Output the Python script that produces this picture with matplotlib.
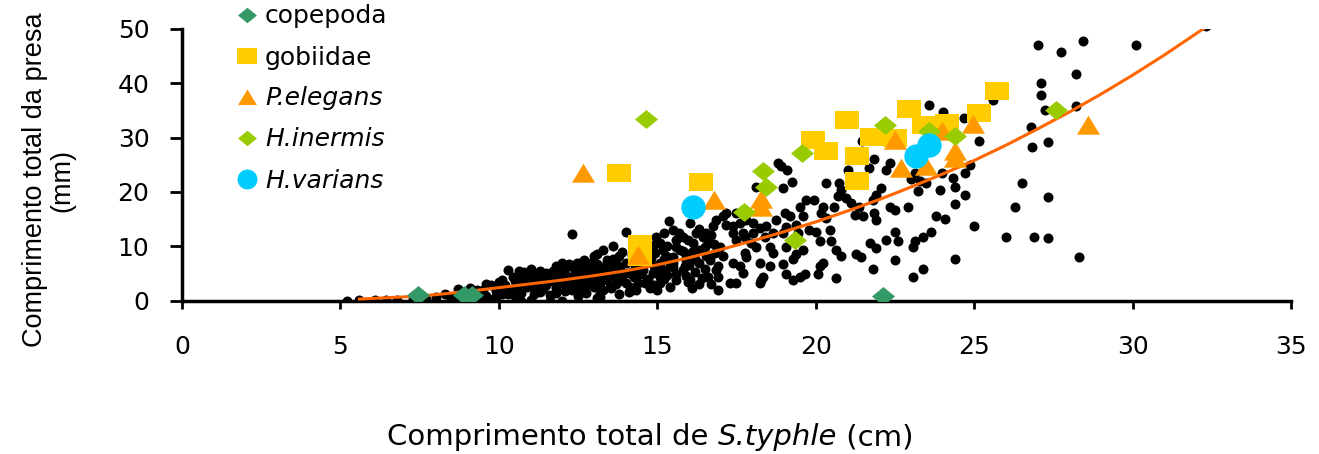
import matplotlib
matplotlib.use("Agg")
import matplotlib.pyplot as plt
from matplotlib.path import Path

# ---------------- data ----------------
# black dots: total length of S. typhle (cm) vs prey total length (mm)
dot_points = [
    (5.2, 0.0), (5.6, 0.1), (6.1, 0.1), (6.45, 0.2), (6.8, 0.2), (7.3, 0.4), (7.7, 0.3),
    (8.0, 0.7), (8.3, 1.3), (8.5, 0.5), (8.7, 2.2), (8.8, 1.3), (9.0, 0.3), (9.2, 1.1),
    (9.3, 2.0), (9.5, 2.0), (9.6, 0.9), (9.75, 2.9), (9.8, 0.4), (10.0, 2.6), (10.1, 1.3),
    (10.1, 3.8), (10.3, 5.7), (10.3, 2.2), (10.45, 4.4), (10.45, 1.9), (10.65, 5.4),
    (10.7, 0.0), (10.75, 3.5), (10.9, 2.6), (11.0, 4.4), (11.0, 0.1), (11.1, 2.6),
    (11.25, 4.2), (11.3, 1.6), (11.5, 5.1), (11.5, 2.9), (11.6, 0.0), (11.7, 4.4),
    (11.8, 6.3), (11.9, 3.2), (12.0, 5.7), (12.0, 0.0), (12.0, 6.9), (12.2, 4.4),
    (12.2, 2.6), (12.25, 6.3), (12.3, 12.3), (12.35, 3.5), (12.35, 6.3), (12.5, 2.6),
    (12.55, 5.1), (12.55, 6.9), (12.7, 7.5), (12.75, 1.5), (12.85, 4.2), (12.9, 6.3),
    (12.95, 3.2), (13.0, 8.2), (13.05, 5.1), (13.1, 0.5), (13.2, 4.4), (13.2, 0.7),
    (13.3, 9.4), (13.3, 2.0), (13.35, 6.3), (13.5, 6.3), (13.5, 2.6), (13.55, 2.3),
    (13.6, 10.0), (13.65, 4.4), (13.7, 6.9), (13.8, 8.2), (13.8, 1.3), (13.8, 6.3),
    (14.0, 3.2), (14.0, 12.6), (14.1, 5.1), (14.15, 2.6), (14.2, 2.0), (14.25, 4.4),
    (10.9, 3.3), (11.2, 3.4), (11.4, 4.0), (11.6, 3.6), (11.9, 4.8), (12.1, 3.0),
    (12.4, 4.7), (12.6, 3.8), (12.8, 5.6), (13.0, 4.0), (13.4, 4.8), (13.6, 5.4),
    (13.9, 4.6), (14.3, 6.0), (14.5, 5.0), (14.7, 4.0), (14.9, 6.4), (15.1, 5.9),
    (15.3, 4.8), (15.5, 6.2), (15.6, 3.8), (15.8, 5.6), (16.0, 6.6), (16.2, 5.2),
    (10.6, 2.8), (10.8, 4.8), (11.3, 5.5), (11.8, 2.3), (12.1, 1.8), (12.7, 2.2),
    (13.2, 3.3), (13.8, 3.6), (14.4, 3.3), (14.6, 7.4), (14.9, 2.9), (15.2, 7.6),
    (15.4, 2.5), (15.9, 7.4), (16.1, 2.4), (16.4, 4.1), (16.7, 3.1),
    (8.6, 0.8), (8.9, 1.6), (9.1, 2.4), (9.4, 1.5), (9.4, 0.6),
    (9.6, 3.1), (9.9, 1.7), (10.0, 3.4), (10.2, 2.9), (10.3, 1.2), (10.5, 3.6),
    (10.5, 0.8), (9.9, 0.6),
    (10.7, 1.5), (10.8, 5.3), (11.0, 5.8), (11.1, 1.2), (11.2, 5.0), (11.4, 2.2),
    (11.4, 4.8), (11.6, 1.0), (10.6, 4.0), (11.0, 3.0),
    (11.7, 5.5), (11.8, 1.5), (12.0, 4.0), (12.1, 5.0), (12.3, 2.0), (12.4, 5.6),
    (12.5, 0.9), (11.6, 4.4), (12.2, 6.8), (12.45, 7.0),
    (12.6, 4.5), (12.7, 6.2), (12.8, 3.0), (12.9, 7.0), (13.0, 2.5), (13.1, 6.8),
    (13.2, 1.5), (13.3, 5.5), (13.4, 7.4), (13.4, 3.8), (13.1, 8.6),
    (13.6, 7.6), (13.7, 3.1), (13.9, 5.3), (14.0, 7.0), (14.1, 1.6), (14.2, 8.4),
    (14.3, 4.9), (14.4, 7.0), (13.9, 9.0), (14.4, 9.3),
    (14.6, 3.2), (14.8, 7.8), (14.9, 10.2), (15.0, 1.9), (15.2, 4.0), (15.3, 10.0),
    (15.4, 7.4), (15.6, 5.0), (15.8, 9.2), (15.9, 4.6), (15.2, 12.4), (15.5, 13.0),
    (16.1, 8.9), (16.2, 7.6), (16.3, 13.2), (16.5, 5.8), (16.5, 9.8), (16.7, 12.0),
    (16.8, 10.4), (16.9, 6.4), (16.3, 3.0), (16.9, 2.0),
    (14.13, 5.1), (14.34, 2.0), (14.55, 5.7), (14.65, 6.9), (14.76, 2.3), (14.86, 5.1),
    (14.92, 8.8), (14.97, 11.8), (15.07, 10.6), (15.07, 6.9), (15.07, 4.4), (15.07, 3.2),
    (15.18, 9.4), (15.18, 5.7), (15.28, 8.2), (15.36, 14.6), (15.39, 6.3), (15.49, 6.9),
    (15.49, 8.1), (15.6, 9.9), (15.6, 11.2), (15.7, 12.4), (15.71, 9.4), (15.81, 11.8),
    (15.86, 6.3), (15.92, 8.2), (15.97, 3.5), (15.97, 11.2), (16.02, 14.3), (16.02, 3.8),
    (16.13, 10.6), (16.23, 12.4), (16.33, 9.4), (16.33, 6.9), (16.44, 11.8), (16.54, 8.2),
    (16.54, 12.4), (16.6, 10.6), (16.6, 4.4), (16.65, 7.5), (16.76, 13.7), (16.81, 8.8),
    (16.86, 14.9), (16.86, 5.7), (16.92, 4.4), (16.97, 9.9), (17.07, 8.2), (17.07, 15.5),
    (17.18, 14.0), (17.18, 16.1), (17.28, 3.2), (17.39, 13.7), (17.39, 12.4), (17.39, 6.9),
    (17.49, 11.2), (17.49, 3.2), (17.49, 16.1), (17.6, 14.3), (17.6, 6.3), (17.7, 12.4),
    (17.7, 5.1), (17.76, 11.8), (17.76, 8.8), (17.81, 14.9), (17.81, 8.1), (17.97, 10.6),
    (18.02, 14.3), (18.02, 12.4), (18.12, 9.9), (18.12, 21.0), (18.23, 13.3), (18.23, 6.9),
    (18.23, 3.2), (18.28, 3.8), (18.34, 4.4), (18.39, 11.8), (18.44, 13.7), (18.55, 9.9),
    (18.55, 6.3), (18.65, 12.4), (18.65, 8.8), (18.75, 14.9), (18.81, 25.4), (18.91, 24.7),
    (18.96, 20.7), (18.96, 6.8), (18.97, 12.4), (19.02, 16.1), (19.1, 24.1), (19.07, 13.6),
    (19.07, 9.8), (19.07, 5.0), (19.18, 15.5), (19.26, 21.8), (19.28, 7.6), (19.28, 3.8),
    (19.38, 13.9), (19.38, 8.6), (19.44, 12.4), (19.49, 17.3), (19.49, 4.4), (19.59, 15.5),
    (19.6, 9.3), (19.65, 5.0), (19.7, 18.6), (19.8, 13.0), (19.96, 18.6), (20.01, 12.7),
    (20.07, 5.0), (20.12, 10.9), (20.12, 6.3), (20.17, 16.1), (20.22, 17.3), (20.22, 7.0),
    (20.33, 21.6), (20.33, 15.2), (20.44, 13.0), (20.48, 10.9), (20.59, 17.3), (20.64, 9.4),
    (20.65, 4.2), (20.7, 19.2), (20.73, 21.6), (20.8, 8.2), (20.81, 20.4), (20.96, 18.9),
    (21.01, 24.1), (21.12, 17.9), (21.23, 15.8), (21.28, 8.6), (21.38, 17.3), (21.44, 8.0),
    (21.47, 29.3), (21.49, 15.5), (21.68, 24.4), (21.7, 10.6), (21.81, 18.6), (21.81, 5.8),
    (21.83, 26.1), (21.83, 16.1), (21.91, 19.5), (21.91, 14.9), (21.91, 9.7), (22.07, 20.7),
    (22.22, 24.1), (22.23, 11.2), (22.34, 25.3), (22.34, 17.3), (22.49, 16.7), (22.49, 12.7),
    (22.49, 7.4), (22.59, 10.9), (22.9, 17.3), (23.01, 22.3), (23.06, 4.4), (23.07, 9.8),
    (23.12, 23.5), (23.12, 10.9), (23.22, 20.1), (23.28, 22.0), (23.38, 11.8), (23.38, 5.8),
    (23.49, 21.6), (23.57, 36.1), (23.64, 12.7), (23.8, 15.5), (23.93, 20.4), (24.0, 23.5),
    (24.01, 34.8), (24.09, 15.1), (24.33, 22.5), (24.38, 17.8), (24.38, 7.6), (24.41, 21.0),
    (24.67, 33.6), (24.7, 23.5), (24.7, 19.5), (24.87, 25.0), (25.01, 13.8), (25.16, 29.3),
    (25.59, 37.0), (25.99, 11.8), (26.29, 17.2), (26.51, 21.7), (26.8, 31.9), (26.81, 28.2),
    (26.89, 11.8), (27.01, 47.0), (27.1, 40.1), (27.1, 37.8), (27.24, 35.1), (27.32, 29.2),
    (27.32, 19.0), (27.32, 11.6), (27.74, 45.8), (28.2, 41.8), (28.2, 35.8), (28.32, 8.1),
    (28.42, 47.7), (30.12, 47.0), (32.32, 50.6),
]
dot_x = [p[0] for p in dot_points]
dot_y = [p[1] for p in dot_points]

# trend line
trend_x = [5.6, 7, 8, 9, 10, 11, 12, 13, 14, 15, 16, 17, 18, 19, 20, 21, 22, 23, 24,
           25, 26, 27, 28, 29, 30, 31, 32.3]
trend_y = [0.3, 0.7, 1.1, 1.7, 2.4, 3.1, 3.8, 4.6, 5.5, 6.6, 7.9, 9.4, 11.0, 12.7,
           14.5, 16.5, 18.6, 20.9, 23.3, 25.8, 28.6, 31.6, 34.7, 38.0, 41.5, 45.2, 50.3]

copepoda_x = [7.45, 8.9, 9.15, 22.12]
copepoda_y = [1.0, 1.0, 1.0, 0.9]

gobiidae_x = [13.78, 14.45, 14.45, 16.37, 19.9, 20.33, 21.0, 21.3, 21.3, 21.78, 22.5,
              22.93, 23.43, 24.15, 25.14, 25.72]
gobiidae_y = [23.5, 10.5, 8.0, 21.8, 29.6, 27.5, 33.2, 26.6, 22.0, 30.2, 30.0,
              35.2, 32.3, 32.7, 34.6, 38.6]

pelegans_x = [12.67, 14.39, 16.79, 18.28, 18.28, 22.49, 22.7, 23.49, 24.0, 24.38, 24.38,
              24.97, 28.58]
pelegans_y = [23.5, 8.4, 18.6, 18.8, 17.2, 29.5, 24.4, 24.7, 31.2, 27.6, 26.3,
              32.5, 32.4]

hinermis_x = [14.65, 17.75, 18.33, 18.44, 19.36, 19.56, 22.17, 23.57, 24.38, 27.59]
hinermis_y = [33.5, 16.3, 23.8, 21.0, 11.2, 27.2, 32.4, 31.2, 30.3, 35.1]

hvarians_x = [16.12, 23.17, 23.57]
hvarians_y = [17.2, 26.6, 28.6]

x_ticks = [0, 5, 10, 15, 20, 25, 30, 35]
y_ticks = [0, 10, 20, 30, 40, 50]

# ---------------- style ----------------
plt.rcParams['font.family'] = ['DejaVu Sans']

diamond = Path([(-1, 0), (0, 0.82), (1, 0), (0, -0.82), (-1, 0)],
               [Path.MOVETO, Path.LINETO, Path.LINETO, Path.LINETO, Path.CLOSEPOLY])
rect = Path([(-1, -0.79), (1, -0.79), (1, 0.79), (-1, 0.79), (-1, -0.79)],
            [Path.MOVETO, Path.LINETO, Path.LINETO, Path.LINETO, Path.CLOSEPOLY])
tri = Path([(-1, -0.8), (1, -0.8), (0, 0.85), (-1, -0.8)],
           [Path.MOVETO, Path.LINETO, Path.LINETO, Path.CLOSEPOLY])

fig = plt.figure(figsize=(13.19, 4.54), dpi=100)
ax = fig.add_axes([0.1380, 0.3377, 0.8408, 0.5985])

ax.plot(dot_x, dot_y, linestyle='none', marker='o', markersize=7.2,
        color='black', markeredgewidth=0, zorder=2)
ax.plot(trend_x, trend_y, color='#FF6600', linewidth=2.2, zorder=3)

h1, = ax.plot(copepoda_x, copepoda_y, linestyle='none', marker=diamond, markersize=16.6,
              color='#339966', markeredgewidth=0, zorder=4, label='copepoda')
h2, = ax.plot(gobiidae_x, gobiidae_y, linestyle='none', marker=rect, markersize=17.3,
              color='#FFCC00', markeredgewidth=0, zorder=5, label='gobiidae')
h3, = ax.plot(pelegans_x, pelegans_y, linestyle='none', marker=tri, markersize=16.6,
              color='#FF9900', markeredgewidth=0, zorder=6, label='P.elegans')
h4, = ax.plot(hinermis_x, hinermis_y, linestyle='none', marker=diamond, markersize=16.6,
              color='#99CC00', markeredgewidth=0, zorder=7, label='H.inermis')
h5, = ax.plot(hvarians_x, hvarians_y, linestyle='none', marker='o', markersize=17.5,
              color='#00CCFF', markeredgewidth=0, zorder=8, label='H.varians')

ax.set_xlim(0, 35)
ax.set_ylim(0, 50)
ax.set_xticks(x_ticks)
ax.set_yticks(y_ticks)
for s in ['top', 'right']:
    ax.spines[s].set_visible(False)
for s in ['left', 'bottom']:
    ax.spines[s].set_linewidth(2.5)
    ax.spines[s].set_color('black')
ax.tick_params(axis='y', direction='out', length=8.5, width=2, pad=15, labelsize=18)
ax.tick_params(axis='x', direction='out', length=6, width=2, pad=19, labelsize=18)

leg = fig.legend(handles=[h1, h2, h3, h4, h5], loc='upper left',
                 bbox_to_anchor=(236.7 / 1319, 1 - 4.5 / 454), frameon=False,
                 fontsize=18, borderpad=0, borderaxespad=0, handlelength=0.8,
                 handletextpad=0.33, labelspacing=0.68, markerscale=0.82)
for t in leg.get_texts()[2:]:
    t.set_fontstyle('italic')

# x-axis title, with the species name in italics
t1 = fig.text(387 / 1319, 0.0198, "Comprimento total de ", ha='left', va='baseline',
              fontsize=21)
t2 = ax.annotate("S.typhle", xy=(1, 0), xycoords=t1, ha='left', va='bottom',
                 fontsize=21, fontstyle='italic', annotation_clip=False)
t3 = ax.annotate(" (cm)", xy=(1, 0), xycoords=t2, ha='left', va='bottom',
                 fontsize=21, annotation_clip=False)

fig.text(0.037, 0.6035, "Comprimento total da presa\n(mm)", rotation=90,
         ha='center', va='center', multialignment='center', fontsize=19.5,
         family=['Liberation Sans'], linespacing=1.1)

fig.savefig('out.png', dpi=100)
